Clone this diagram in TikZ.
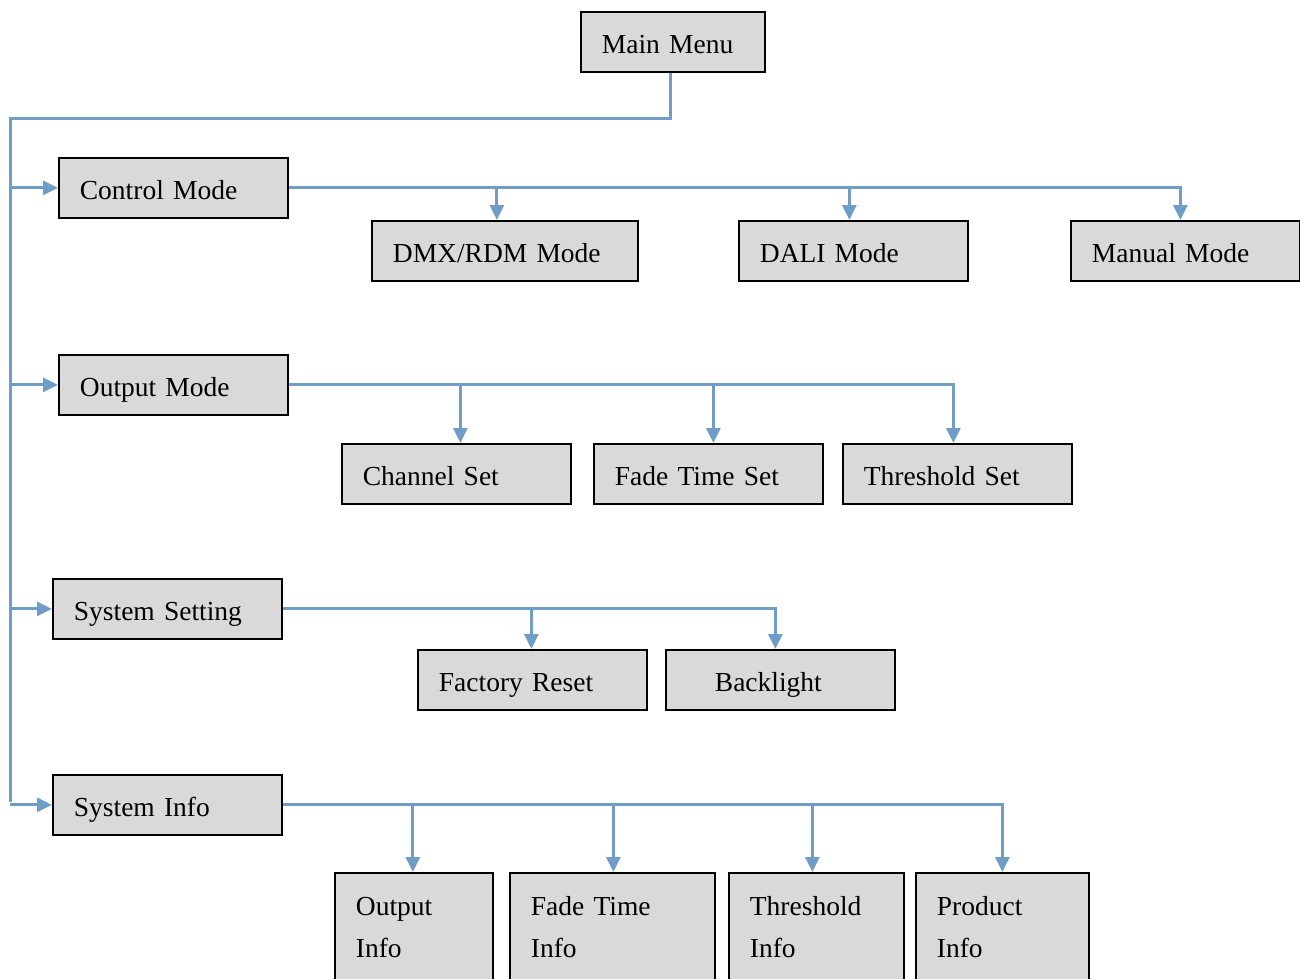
\documentclass[tikz,border=0pt]{standalone}
\usepackage{fontspec}
\setmainfont{Liberation Serif}
\usetikzlibrary{arrows.meta}
\definecolor{connc}{RGB}{112,156,200}
\definecolor{boxfill}{RGB}{217,217,217}
\begin{document}
\begin{tikzpicture}[x=1pt,y=-1pt,
  box/.style={draw=black, line width=1.8pt, fill=boxfill, anchor=north west,
    inner xsep=21pt, inner ysep=0pt, align=left,
    font=\fontsize{27.5}{42}\selectfont, minimum height=60pt},
  one/.style={box, text height=23.5pt, text depth=0pt},
  tall/.style={box, minimum height=109pt},
  link/.style={draw=connc, line width=3pt},
  arr/.style={link, -{Triangle[length=15pt,width=14pt]}}]
\useasboundingbox (0,0) rectangle (1300,979);

\node[one, text width=142pt] (main) at (580,11) {Main Menu};

\node[one, text width=187pt] (ctrl) at (58,157) {Control Mode};
\node[one, text width=224pt] (dmx) at (371,220) {DMX/RDM Mode};
\node[one, text width=187pt] (dali) at (738,220) {DALI Mode};
\node[one, text width=187pt] (manual) at (1070,220) {Manual Mode};

\node[one, text width=187pt] (outm) at (58,354) {Output Mode};
\node[one, text width=187pt] (chan) at (341,443) {Channel Set};
\node[one, text width=187pt] (fade) at (593,443) {Fade Time Set};
\node[one, text width=187pt] (thr) at (842,443) {Threshold Set};

\node[one, text width=187pt] (sys) at (52,578) {System Setting};
\node[one, text width=187pt] (fac) at (417,649) {Factory Reset};
\node[one, text width=131pt, inner xsep=49pt] (back) at (665,649) {Backlight};

\node[one, text width=187pt] (info) at (52,774) {System Info};
\node[tall, text width=116pt] (oinfo) at (334,872) {Output\\Info};
\node[tall, text width=163pt] (finfo) at (509,872) {Fade Time\\Info};
\node[tall, text width=133pt] (tinfo) at (728,872) {Threshold\\Info};
\node[tall, text width=131pt] (pinfo) at (915,872) {Product\\Info};

% trunk
\coordinate (ttop) at (10,119);
\coordinate (tbot) at (10,802);
\coordinate (mout) at ([xshift=-2pt]main.south);
\draw[link] (mout) |- (ttop) -- (tbot);
\draw[arr] (ttop |- ctrl.west) -- (ctrl.west);
\draw[arr] (ttop |- outm.west) -- (outm.west);
\draw[arr] (ttop |- sys.west) -- (sys.west);
\draw[arr] (ttop |- info.west) -- (info.west);

% control mode
\coordinate (dmxin) at ([xshift=-8pt]dmx.north);
\coordinate (daliin) at ([xshift=-4pt]dali.north);
\coordinate (manin) at ([xshift=-5pt]manual.north);
\draw[arr] (ctrl.east) -| (manin);
\draw[arr] (dmxin |- ctrl.east) -- (dmxin);
\draw[arr] (daliin |- ctrl.east) -- (daliin);

% output mode
\coordinate (chanin) at ([xshift=4pt]chan.north);
\coordinate (fadein) at ([xshift=5pt]fade.north);
\coordinate (thrin) at ([xshift=-4pt]thr.north);
\draw[arr] (outm.east) -| (thrin);
\draw[arr] (chanin |- outm.east) -- (chanin);
\draw[arr] (fadein |- outm.east) -- (fadein);

% system setting
\coordinate (facin) at ([xshift=-1pt]fac.north);
\coordinate (backin) at ([xshift=-5pt]back.north);
\draw[arr] (sys.east) -| (backin);
\draw[arr] (facin |- sys.east) -- (facin);

% system info
\coordinate (oin) at ([xshift=-1pt]oinfo.north);
\coordinate (fin) at ([xshift=1pt]finfo.north);
\coordinate (tin) at ([xshift=-4pt]tinfo.north);
\coordinate (pin) at (pinfo.north);
\draw[arr] (info.east) -| (pin);
\draw[arr] (oin |- info.east) -- (oin);
\draw[arr] (fin |- info.east) -- (fin);
\draw[arr] (tin |- info.east) -- (tin);
\end{tikzpicture}
\end{document}
